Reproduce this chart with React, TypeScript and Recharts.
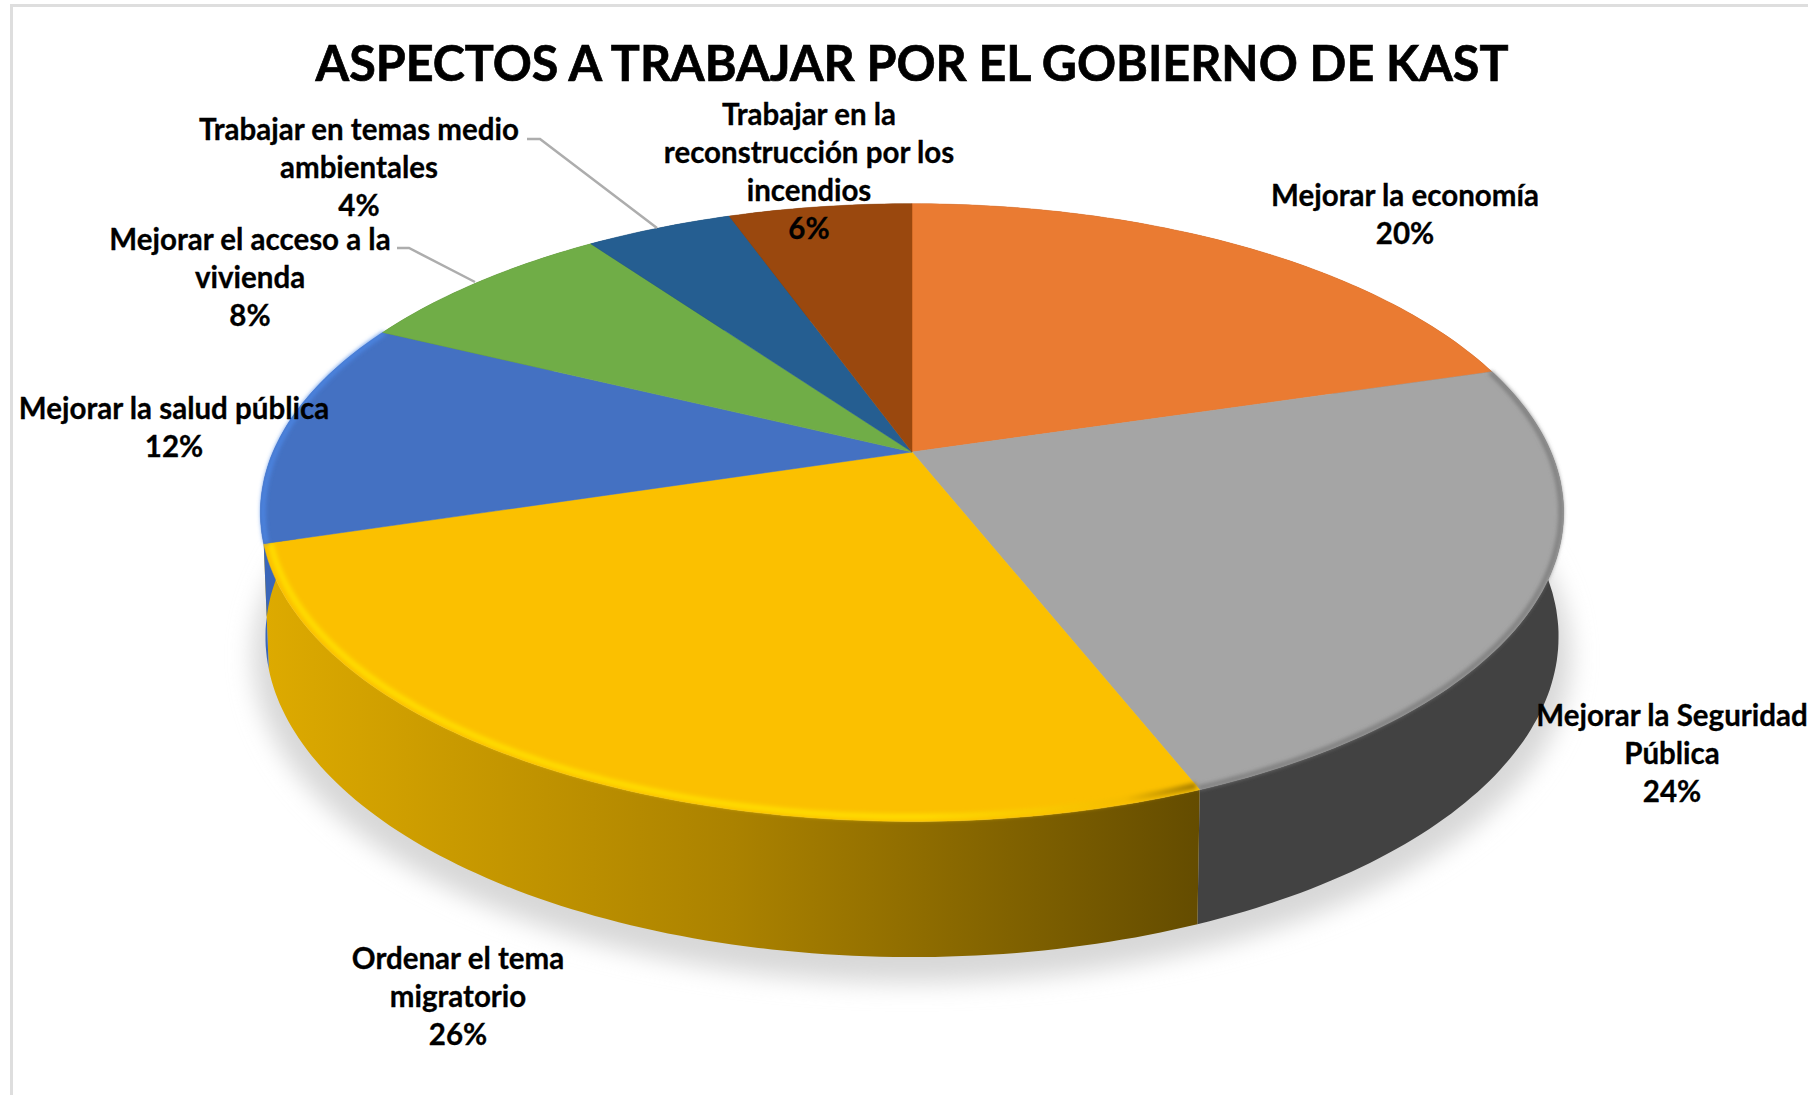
import React from 'react';
import { PieChart, Pie } from 'recharts';

const categories = [
  ['Mejorar la economía'],
  ['Mejorar la Seguridad', 'Pública'],
  ['Ordenar el tema', 'migratorio'],
  ['Mejorar la salud pública'],
  ['Mejorar el acceso a la', 'vivienda'],
  ['Trabajar en temas medio', 'ambientales'],
  ['Trabajar en la', 'reconstrucción por los', 'incendios'],
];
// slice sizes, the labels show them rounded
const values = [20.4, 23.6, 26.3, 11.9, 7.9, 4.4, 5.5];
const topColors = ['#EA7B32', '#A5A5A5', '#FBC000', '#4471C2', '#70AD47', '#255E91', '#9A480E'];
const wallColors = ['#8C4A1D', '#424242', 'url(#yellowWall)', '#3A66B8', '#436829', '#163855', '#5E2C09'];
const rimColors = [null, '#777777', 'url(#yellowRim)', '#4D88E6', null, null, null];

// label centres, measured on the reference
const labelX = [1405, 1672, 458, 174, 250, 359, 809];
const labelY = [196, 716, 959, 409, 240, 130, 115];
const LINE_H = 38;

const pieData = categories.map((lines, i) => ({ name: lines.join(' '), value: values[i] }));
const wholeDisc = [{ name: 'base', value: 100 }];

const W = 1808;
const H = 1095;
const HUB_X = 912;
const HUB_Y = 452;
const PERSPECTIVE = 0.196;
const topPlane = { dy: 0, a: 639, b: 297 };
const basePlane = { dy: 122, a: 634, b: 308 };

type Plane = { dy: number; a: number; b: number };

// circle point -> screen, the pie lies tilted so far side gets smaller
const project = (cx: number, cy: number, deg: number, plane: Plane, k = 1) => {
  const rad = (deg * Math.PI) / 180;
  const X = Math.cos(rad) * k;
  const Y = Math.sin(rad) * k;
  const d = 1 + PERSPECTIVE * Y;
  return [cx + (plane.a * X) / d, cy + plane.dy - (plane.b * Y) / d];
};

const arc = (cx: number, cy: number, from: number, to: number, plane: Plane, k = 1) => {
  const steps = Math.max(2, Math.ceil(Math.abs(to - from)));
  const pts = [];
  for (let i = 0; i <= steps; i++) pts.push(project(cx, cy, from + ((to - from) * i) / steps, plane, k));
  return pts;
};

const toPath = (pts: number[][], close = true) =>
  pts.map((p, i) => `${i ? 'L' : 'M'}${p[0].toFixed(1)} ${p[1].toFixed(1)}`).join(' ') + (close ? ' Z' : '');

const TopSlice = (props: any) => {
  const { cx, cy, startAngle, endAngle, index } = props;
  const rim = rimColors[index];
  const edge = arc(cx, cy, startAngle, endAngle, topPlane);
  return (
    <g>
      <path d={toPath([[cx, cy], ...edge])} fill={topColors[index]} stroke={topColors[index]} strokeWidth={0.5} />
      {rim && (
        <path
          d={toPath(arc(cx, cy, startAngle, endAngle, topPlane, index === 2 ? 0.99 : 0.996), false)}
          fill="none"
          stroke={rim}
          strokeWidth={index === 2 ? 6 : 4}
          filter="url(#rimBlur)"
        />
      )}
    </g>
  );
};

const WallSlice = (props: any) => {
  const { cx, cy, startAngle, endAngle, index } = props;
  const upper = arc(cx, cy, startAngle, endAngle, topPlane);
  const lower = arc(cx, cy, endAngle, startAngle, basePlane);
  return <path d={toPath([...upper, ...lower])} fill={wallColors[index]} />;
};

const ShadowDisc = (props: any) => {
  const { cx, cy } = props;
  const shadowPlane = { dy: basePlane.dy + 18, a: basePlane.a + 12, b: basePlane.b + 6 };
  return <path d={toPath(arc(cx, cy, 0, 360, shadowPlane))} fill="#D8D8D8" filter="url(#shadowBlur)" />;
};

const renderLabel = (props: any) => {
  const { index, value } = props;
  const lines = [...categories[index], `${Math.round(value)}%`];
  return (
    <g key={index}>
      {index === 5 && <polyline points="527,139 540,139 657,228" fill="none" stroke="#ADADAD" strokeWidth={2.5} />}
      {index === 4 && <polyline points="397,248 409,248 475,282" fill="none" stroke="#ADADAD" strokeWidth={2.5} />}
      <text textAnchor="middle" fontFamily="Lato" fontWeight={700} fontSize={29.5} fill="#000" stroke="#000" strokeWidth={0.3}>
        {lines.map((t, i) => (
          <tspan key={i} x={labelX[index]} y={labelY[index] + i * LINE_H + 10}>
            {t}
          </tspan>
        ))}
      </text>
    </g>
  );
};

export default function App() {
  return (
    <div style={{ position: 'absolute', left: 0, top: 0, width: W, height: H, background: '#fff', overflow: 'hidden' }}>
      <div
        style={{
          position: 'absolute',
          left: 10,
          top: 4,
          width: W,
          height: H,
          borderLeft: '3px solid #DEDEDE',
          borderTop: '3px solid #DEDEDE',
        }}
      />
      <div style={{ position: 'absolute', left: 0, top: 0 }}>
        <PieChart width={W} height={H} margin={{ top: 0, right: 0, bottom: 0, left: 0 }}>
          <defs>
            <linearGradient id="yellowWall" gradientUnits="userSpaceOnUse" x1={266} y1={0} x2={1200} y2={0}>
              <stop offset="0%" stopColor="#DDAA00" />
              <stop offset="50%" stopColor="#AB8200" />
              <stop offset="100%" stopColor="#644C00" />
            </linearGradient>
            <linearGradient id="yellowRim" gradientUnits="userSpaceOnUse" x1={266} y1={0} x2={1200} y2={0}>
              <stop offset="0%" stopColor="#FFDC00" />
              <stop offset="70%" stopColor="#FFDC00" />
              <stop offset="92%" stopColor="#F5BC00" />
              <stop offset="100%" stopColor="#9C7600" />
            </linearGradient>
            <filter id="rimBlur" x="-10%" y="-10%" width="120%" height="120%">
              <feGaussianBlur stdDeviation="2" />
            </filter>
            <filter id="shadowBlur" x="-10%" y="-10%" width="120%" height="120%">
              <feGaussianBlur stdDeviation="12" />
            </filter>
          </defs>
          <text x={912} y={81} textAnchor="middle" fontFamily="Lato" fontWeight={700} fontSize={50} fill="#000" stroke="#000" strokeWidth={0.7} textLength={1193} lengthAdjust="spacingAndGlyphs">
            ASPECTOS A TRABAJAR POR EL GOBIERNO DE KAST
          </text>
          <Pie data={wholeDisc} dataKey="value" cx={HUB_X} cy={HUB_Y} outerRadius={300} startAngle={90} endAngle={-270} shape={ShadowDisc} isAnimationActive={false} stroke="none" />
          <Pie data={pieData} dataKey="value" cx={HUB_X} cy={HUB_Y} outerRadius={300} startAngle={90} endAngle={-270} shape={WallSlice} isAnimationActive={false} stroke="none" />
          <Pie data={pieData} dataKey="value" nameKey="name" cx={HUB_X} cy={HUB_Y} outerRadius={300} startAngle={90} endAngle={-270} shape={TopSlice} label={renderLabel} labelLine={false} isAnimationActive={false} stroke="none" />
        </PieChart>
      </div>
    </div>
  );
}
